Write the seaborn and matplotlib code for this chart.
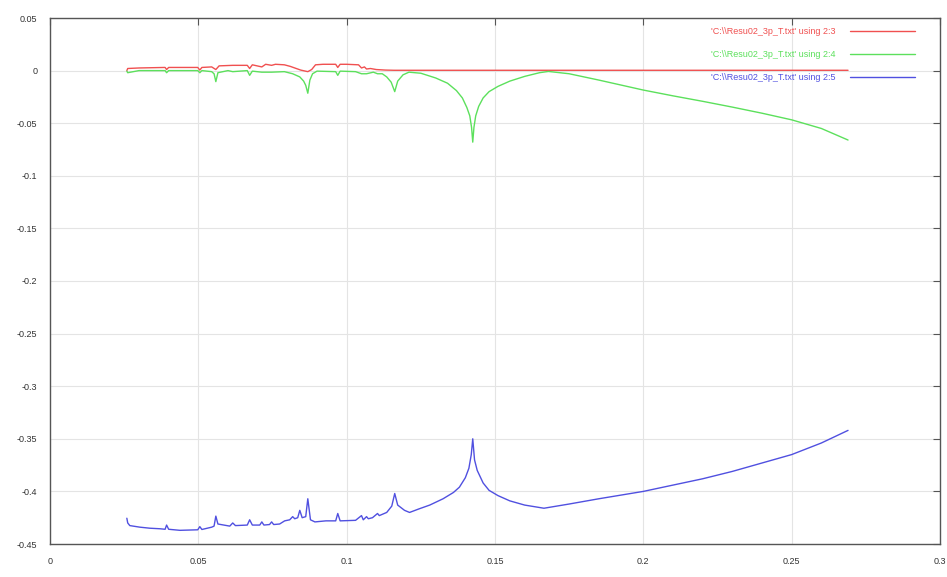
import matplotlib
matplotlib.use("Agg")
import matplotlib.pyplot as plt
import seaborn as sns
import pandas as pd

# ---- data ----
red_label = "'C:\\\\Resu02_3p_T.txt' using 2:3"
green_label = "'C:\\\\Resu02_3p_T.txt' using 2:4"
blue_label = "'C:\\\\Resu02_3p_T.txt' using 2:5"

red_x = [0.0259, 0.0262, 0.0300, 0.0388, 0.0393, 0.0400, 0.0498, 0.0505, 0.0512, 0.0545,
         0.0559, 0.0570, 0.0616, 0.0665, 0.0673, 0.0682, 0.0714, 0.0727, 0.0747, 0.0760,
         0.0790, 0.0810, 0.0830, 0.0845, 0.0869, 0.0882, 0.0895, 0.0920, 0.0963, 0.0970,
         0.0978, 0.1000, 0.1040, 0.1050, 0.1060, 0.1067, 0.1080, 0.1100, 0.1130, 0.1160,
         0.1200, 0.1500, 0.2000, 0.2690]
red_y = [0.0000, 0.0020, 0.0025, 0.0030, 0.0010, 0.0030, 0.0030, 0.0005, 0.0030, 0.0035,
         0.0010, 0.0045, 0.0050, 0.0050, 0.0020, 0.0055, 0.0035, 0.0060, 0.0050, 0.0060,
         0.0055, 0.0040, 0.0020, 0.0005, -0.0010, 0.0010, 0.0055, 0.0060, 0.0060, 0.0030,
         0.0060, 0.0060, 0.0055, 0.0025, 0.0035, 0.0015, 0.0020, 0.0010, 0.0005, 0.0003,
         0.0003, 0.0003, 0.0003, 0.0003]

green_x = [0.0259, 0.0262, 0.0300, 0.0388, 0.0393, 0.0400, 0.0498, 0.0505, 0.0512, 0.0545,
           0.0553, 0.0559, 0.0566, 0.0600, 0.0616, 0.0665, 0.0673, 0.0682, 0.0714, 0.0747,
           0.0790, 0.0818, 0.0842, 0.0855, 0.0862, 0.0869, 0.0876, 0.0885, 0.0900, 0.0963,
           0.0970, 0.0978, 0.1030, 0.1050, 0.1067, 0.1090, 0.1104, 0.1120, 0.1135, 0.1150,
           0.1162, 0.1172, 0.1190, 0.1210, 0.1250, 0.1300, 0.1340, 0.1370, 0.1390, 0.1405,
           0.1415, 0.1421, 0.1425, 0.1429, 0.1435, 0.1445, 0.1460, 0.1480, 0.1510, 0.1550,
           0.1600, 0.1650, 0.1680, 0.1750, 0.1850, 0.2000, 0.2100, 0.2200, 0.2300, 0.2400,
           0.2500, 0.2600, 0.2690]
green_y = [-0.0005, -0.0020, 0.0000, 0.0000, -0.0020, 0.0000, 0.0000, -0.0020, 0.0000, -0.0010,
           -0.0030, -0.0105, -0.0020, 0.0000, -0.0010, 0.0000, -0.0045, -0.0005, -0.0015, -0.0015,
           -0.0010, -0.0030, -0.0060, -0.0100, -0.0140, -0.0215, -0.0090, -0.0030, -0.0005, -0.0010,
           -0.0045, -0.0005, -0.0010, -0.0030, -0.0030, -0.0015, -0.0030, -0.0030, -0.0060, -0.0110,
           -0.0200, -0.0100, -0.0040, -0.0015, -0.0025, -0.0070, -0.0120, -0.0190, -0.0260, -0.0350,
           -0.0430, -0.0540, -0.0680, -0.0540, -0.0430, -0.0340, -0.0260, -0.0200, -0.0150, -0.0100,
           -0.0055, -0.0020, -0.0008, -0.0030, -0.0090, -0.0185, -0.0240, -0.0292, -0.0347, -0.0405,
           -0.0468, -0.0550, -0.0660]

blue_x = [0.0259, 0.0262, 0.0269, 0.0303, 0.0337, 0.0370, 0.0388, 0.0393, 0.0400, 0.0438,
          0.0498, 0.0505, 0.0512, 0.0545, 0.0553, 0.0559, 0.0566, 0.0606, 0.0616, 0.0625,
          0.0665, 0.0673, 0.0682, 0.0707, 0.0714, 0.0721, 0.0740, 0.0747, 0.0754, 0.0774,
          0.0791, 0.0808, 0.0818, 0.0825, 0.0835, 0.0842, 0.0850, 0.0862, 0.0869, 0.0878,
          0.0893, 0.0930, 0.0963, 0.0970, 0.0978, 0.1030, 0.1050, 0.1056, 0.1067, 0.1073,
          0.1087, 0.1104, 0.1110, 0.1135, 0.1152, 0.1162, 0.1172, 0.1195, 0.1212, 0.1245,
          0.1280, 0.1325, 0.1360, 0.1380, 0.1400, 0.1412, 0.1420, 0.1425, 0.1431, 0.1440,
          0.1460, 0.1480, 0.1510, 0.1550, 0.1600, 0.1665, 0.1750, 0.1850, 0.2000, 0.2100,
          0.2200, 0.2300, 0.2400, 0.2500, 0.2600, 0.2690]
blue_y = [-0.4255, -0.4300, -0.4325, -0.4340, -0.4350, -0.4355, -0.4360, -0.4320, -0.4360, -0.4370,
          -0.4365, -0.4335, -0.4362, -0.4340, -0.4330, -0.4235, -0.4310, -0.4330, -0.4300, -0.4325,
          -0.4320, -0.4270, -0.4320, -0.4320, -0.4290, -0.4320, -0.4315, -0.4290, -0.4315, -0.4310,
          -0.4280, -0.4270, -0.4240, -0.4260, -0.4250, -0.4180, -0.4250, -0.4240, -0.4070, -0.4270,
          -0.4290, -0.4280, -0.4280, -0.4210, -0.4280, -0.4275, -0.4230, -0.4270, -0.4240, -0.4260,
          -0.4250, -0.4210, -0.4230, -0.4200, -0.4140, -0.4020, -0.4130, -0.4180, -0.4200, -0.4165,
          -0.4130, -0.4070, -0.4010, -0.3960, -0.3870, -0.3780, -0.3650, -0.3500, -0.3700, -0.3800,
          -0.3920, -0.3990, -0.4040, -0.4090, -0.4130, -0.4160, -0.4120, -0.4070, -0.4000, -0.3940,
          -0.3880, -0.3810, -0.3730, -0.3650, -0.3540, -0.3420]

x_ticks = [0, 0.05, 0.1, 0.15, 0.2, 0.25, 0.3]
x_ticklabels = ["0", "0.05", "0.1", "0.15", "0.2", "0.25", "0.3"]
y_ticks = [0.05, 0, -0.05, -0.1, -0.15, -0.2, -0.25, -0.3, -0.35, -0.4, -0.45]
y_ticklabels = ["0.05", "0", "-0.05", "-0.1", "-0.15", "-0.2", "-0.25", "-0.3", "-0.35", "-0.4", "-0.45"]

# ---- styling ----
sns.set_style("white")
plt.rcParams["font.family"] = ["Liberation Sans", "DejaVu Sans"]

fig = plt.figure(figsize=(9.47, 5.77), dpi=100)
ax = fig.add_axes([50 / 947, 1 - 544 / 577, 890 / 947, 526 / 577])

df_red = pd.DataFrame({"x": red_x, "y": red_y})
df_green = pd.DataFrame({"x": green_x, "y": green_y})
df_blue = pd.DataFrame({"x": blue_x, "y": blue_y})

sns.lineplot(data=df_red, x="x", y="y", ax=ax, color="#f05050", lw=1.0,
             estimator=None, sort=False, label=red_label)
sns.lineplot(data=df_green, x="x", y="y", ax=ax, color="#5ce05c", lw=1.0,
             estimator=None, sort=False, label=green_label)
sns.lineplot(data=df_blue, x="x", y="y", ax=ax, color="#5050e0", lw=1.0,
             estimator=None, sort=False, label=blue_label)

ax.set_xlim(0, 0.3)
ax.set_ylim(-0.45, 0.05)
ax.set_xticks(x_ticks)
ax.set_xticklabels(x_ticklabels)
ax.set_yticks(y_ticks)
ax.set_yticklabels(y_ticklabels)
ax.set_xlabel("")
ax.set_ylabel("")

ax.grid(True, color="#e4e4e4", lw=0.8)
ax.set_axisbelow(True)
for s in ax.spines.values():
    s.set_visible(True)
    s.set_color("#555555")
    s.set_linewidth(1.0)

ax.tick_params(axis="both", direction="in", length=5, width=0.8, color="#555555",
               labelsize=6.5, labelcolor="#333333", top=True, right=True)
ax.tick_params(axis="x", pad=9)
ax.tick_params(axis="y", pad=9)

leg = ax.legend(loc="upper right", bbox_to_anchor=(0.972, 0.982), frameon=False,
                markerfirst=False, labelcolor="linecolor", fontsize=6.5,
                handlelength=7.2, handletextpad=1.6, labelspacing=1.55,
                borderpad=0, borderaxespad=0)

fig.savefig("out.png", dpi=100, facecolor="white")
